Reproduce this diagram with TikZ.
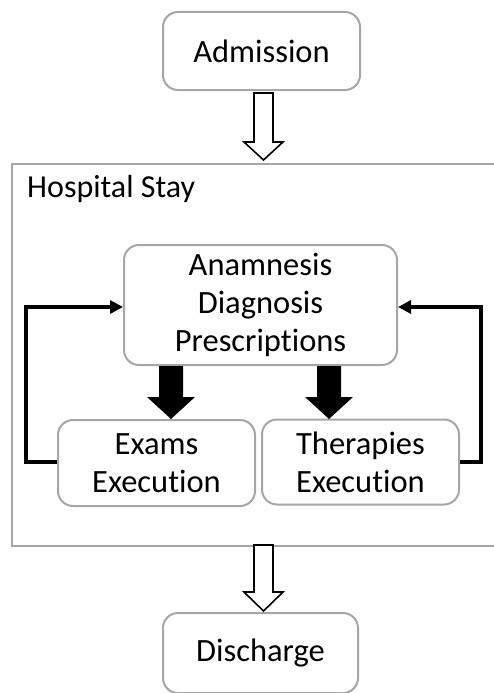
\documentclass[tikz,border=0pt]{standalone}
\usepackage{fontspec}
\setmainfont{Carlito}[Ligatures={NoCommon}]
\usetikzlibrary{calc,arrows.meta}
\definecolor{boxgray}{HTML}{A6A6A6}
\tikzset{
  x=1pt,y=-1pt,
  procbox/.style={draw=boxgray,line width=2pt,rounded corners=15pt,align=center,
    inner sep=0pt,font=\fontsize{32.5}{38}\selectfont},
  hollowarrow/.style={draw=black,line width=1.6pt,fill=white,line join=miter},
  solidarrow/.style={fill=black,draw=none},
  feedback/.style={draw=black,line width=3.5pt,-{Triangle[length=13pt,width=13pt]}},
  framebox/.style={draw=boxgray,line width=2pt}
}
\begin{document}
\begin{tikzpicture}
\useasboundingbox (0,0) rectangle (493,693);
% frame
\draw[framebox] (495,164) -- (12,164) -- (12,546) -- (495,546);
\node[anchor=base west,inner sep=0pt,font=\fontsize{32}{38}\selectfont] (stay) at (27,197) {Hospital Stay};
% boxes
\node[procbox,minimum width=197pt,minimum height=78pt] (adm) at (261.5,51) {Admission};
\node[procbox,minimum width=273pt,minimum height=120pt] (ana) at (260.5,305) {Anamnesis\\Diagnosis\\Prescriptions};
\node[procbox,minimum width=197pt,minimum height=86pt] (exa) at (156.5,463) {Exams\\Execution};
\node[procbox,minimum width=197pt,minimum height=85pt] (the) at (360.5,462) {Therapies\\Execution};
\node[procbox,minimum width=195pt,minimum height=80pt] (dis) at (260.5,653) {Discharge};
% hollow arrow admission -> stay
\coordinate (h1) at (263.5,93);
\draw[hollowarrow] ($(h1)+(-9.5,0)$) -- ($(h1)+(9.5,0)$) -- ($(h1)+(9.5,49)$) -- ($(h1)+(19.5,49)$)
  -- ($(h1)+(0,67)$) -- ($(h1)+(-19.5,49)$) -- ($(h1)+(-9.5,49)$) -- cycle;
% hollow arrow stay -> discharge
\coordinate (h2) at (263.5,545);
\draw[hollowarrow] ($(h2)+(-9.5,0)$) -- ($(h2)+(9.5,0)$) -- ($(h2)+(9.5,47)$) -- ($(h2)+(19.5,47)$)
  -- ($(h2)+(0,66)$) -- ($(h2)+(-19.5,47)$) -- ($(h2)+(-9.5,47)$) -- cycle;
% solid arrows
\coordinate (s1) at (171,366);
\coordinate (s2) at (329,366);
\foreach \s in {s1,s2}{
  \fill[solidarrow] ($(\s)+(-12,0)$) -- ($(\s)+(12,0)$) -- ($(\s)+(12,31)$) -- ($(\s)+(24,31)$)
    -- ($(\s)+(0,53)$) -- ($(\s)+(-24,31)$) -- ($(\s)+(-12,31)$) -- cycle;
}
% feedback loops
\draw[feedback] (exa.west |- 0,462) -- (26,462) -- (26,307) -- (ana.west |- 0,307);
\draw[feedback] (the.east |- 0,462) -- (481,462) -- (481,307) -- (ana.east |- 0,307);
\end{tikzpicture}
\end{document}
